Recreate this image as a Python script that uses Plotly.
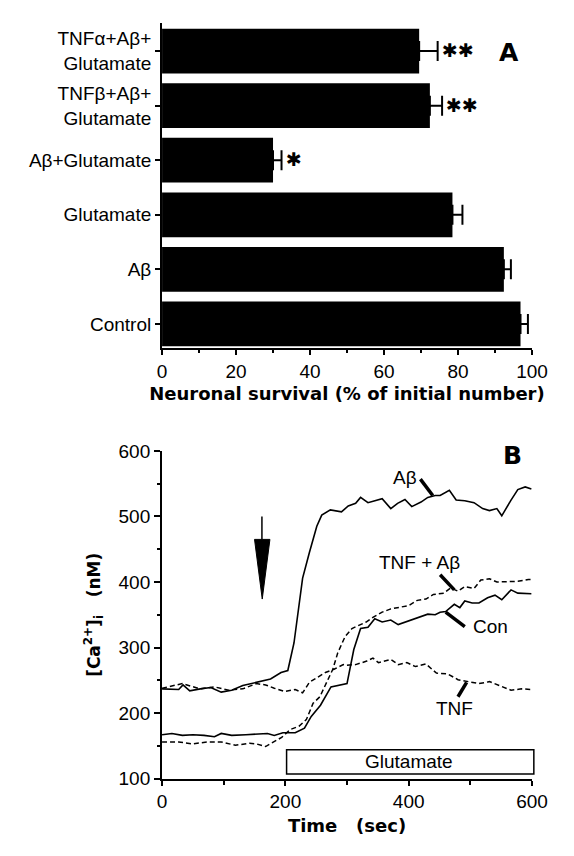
import plotly.graph_objects as go

# ---------------- Panel A data (bottom -> top) ----------------
categories = ["Control", "Aβ", "Glutamate", "Aβ+Glutamate",
              "TNFβ+Aβ+<br>Glutamate", "TNFα+Aβ+<br>Glutamate"]
survival = [96.9, 92.4, 78.5, 30.0, 72.4, 69.5]
survival_err = [2.0, 1.9, 2.7, 2.3, 3.3, 5.0]
stars = ["", "", "", "✱", "✱✱", "✱✱"]
a_ticks = [0, 20, 40, 60, 80, 100]

# ---------------- Panel B data ----------------
t_abeta = [0, 27, 34, 45, 62, 79, 96, 113, 131, 153, 176, 193, 204, 214, 228, 239, 251, 259,
           273, 291, 302, 314, 322, 334, 348, 357, 371, 382, 394, 405, 420, 431, 443, 451,
           466, 477, 491, 506, 520, 531, 543, 551, 566, 577, 589, 599]
ca_abeta = [237, 236, 243, 234, 237, 239, 232, 235, 242, 247, 252, 262, 265, 307, 406, 445, 485, 502,
            510, 507, 516, 520, 529, 521, 525, 527, 512, 520, 526, 515, 522, 529, 532, 532,
            540, 525, 524, 521, 512, 509, 512, 501, 525, 541, 545, 542]

t_tnf = [0, 33, 62, 85, 108, 131, 153, 168, 182, 199, 216, 228, 239, 256, 265, 279, 294, 299,
         314, 331, 342, 351, 360, 371, 383, 397, 411, 428, 445, 463, 480, 497, 514, 531, 549,
         566, 583, 599]
ca_tnf = [238, 245, 237, 240, 235, 237, 245, 243, 238, 233, 236, 231, 247, 257, 262, 267, 274, 273,
          274, 279, 284, 277, 279, 282, 274, 277, 271, 275, 261, 260, 251, 248, 245, 248, 241,
          235, 237, 236]

t_con = [0, 16, 33, 50, 68, 85, 96, 113, 136, 159, 171, 182, 196, 216, 231, 242, 257, 274, 285,
         300, 311, 322, 334, 345, 357, 371, 383, 400, 417, 431, 443, 451, 460, 474, 483, 491,
         503, 514, 528, 540, 551, 566, 577, 599]
ca_con = [167, 169, 166, 167, 166, 164, 169, 166, 167, 168, 169, 166, 170, 170, 177, 195, 212, 240, 242,
          245, 297, 329, 331, 344, 339, 342, 335, 341, 346, 351, 350, 354, 355, 366, 361, 371,
          368, 368, 376, 380, 373, 388, 383, 382]

t_tnfab = [0, 27, 50, 73, 96, 119, 142, 153, 168, 182, 194, 208, 222, 234, 245, 256, 265, 277,
           285, 297, 308, 320, 331, 342, 357, 371, 385, 400, 414, 428, 440, 457, 468, 480, 491,
           506, 517, 531, 543, 560, 577, 594, 599]
ca_tnfab = [156, 156, 153, 156, 156, 151, 154, 153, 149, 156, 163, 175, 180, 190, 215, 225, 242, 267,
            292, 317, 329, 334, 339, 346, 354, 359, 361, 364, 372, 374, 381, 383, 391, 386, 393,
            390, 403, 405, 400, 400, 401, 404, 404]

b_xticks = [0, 200, 400, 600]
b_yticks = [100, 200, 300, 400, 500, 600]

FONT = "Liberation Sans, Arial, sans-serif"
BOLD = "DejaVu Sans"
W, H = 574, 856
XD = [163 / W, 547 / W]
YA = [1 - 347 / H, 1 - 13 / H]
YB = [1 - 788 / H, 1 - 452 / H]

fig = go.Figure()

fig.add_trace(go.Bar(
    x=survival, y=categories, orientation="h",
    marker=dict(color="black", line=dict(width=0)), width=0.82,
    error_x=dict(type="data", array=survival_err, arrayminus=[0] * len(survival_err),
                 symmetric=False, color="black", thickness=2, width=10),
    xaxis="x", yaxis="y", showlegend=False,
))

for cat, v, e, s in zip(categories, survival, survival_err, stars):
    if s:
        fig.add_annotation(x=v + e, y=cat, xref="x", yref="y", text=s, showarrow=False,
                           xanchor="left", xshift=2, yshift=1,
                           font=dict(family="DejaVu Sans", size=19, color="black"))

line_style = dict(color="black", width=1.6)
fig.add_trace(go.Scatter(x=t_abeta, y=ca_abeta, mode="lines", line=line_style,
                         xaxis="x2", yaxis="y2", showlegend=False))
fig.add_trace(go.Scatter(x=t_con, y=ca_con, mode="lines", line=line_style,
                         xaxis="x2", yaxis="y2", showlegend=False))
fig.add_trace(go.Scatter(x=t_tnf, y=ca_tnf, mode="lines",
                         line=dict(color="black", width=1.5, dash="5px,3px"),
                         xaxis="x2", yaxis="y2", showlegend=False))
fig.add_trace(go.Scatter(x=t_tnfab, y=ca_tnfab, mode="lines",
                         line=dict(color="black", width=1.5, dash="5px,3px"),
                         xaxis="x2", yaxis="y2", showlegend=False))

axis_common = dict(showline=True, linecolor="black", linewidth=2, ticks="outside",
                   tickcolor="black", tickwidth=2, showgrid=False, zeroline=False,
                   tickfont=dict(family=FONT, size=19, color="black"))
title_font = dict(family=BOLD, size=18, color="black")

fig.update_layout(
    width=W, height=H, margin=dict(l=0, r=0, t=0, b=0),
    paper_bgcolor="white", plot_bgcolor="white", hovermode=False,
    xaxis=dict(domain=XD, anchor="y", range=[0, 100], tickvals=a_ticks, ticklen=5,
               minor=dict(dtick=10, ticklen=3, ticks="outside", tickcolor="black", tickwidth=2),
               title=dict(text="<b>Neuronal survival (% of initial number)</b>",
                          font=title_font, standoff=6),
               **axis_common),
    yaxis=dict(domain=YA, anchor="x", type="category", range=[-0.45, 5.52], ticklen=5,
               **axis_common),
    xaxis2=dict(domain=XD, anchor="y2", range=[0, 600], tickvals=b_xticks, ticklen=5,
                minor=dict(tickvals=[100, 300, 500], ticklen=4, ticks="outside",
                           tickcolor="black", tickwidth=2),
                title=dict(text="<b>Time&nbsp;&nbsp;&nbsp;(sec)</b>", font=title_font, standoff=8),
                **axis_common),
    yaxis2=dict(domain=YB, anchor="x2", range=[100, 600], tickvals=b_yticks, ticklen=6,
                minor=dict(dtick=50, ticklen=3, ticks="outside", tickcolor="black", tickwidth=2),
                title=dict(text="<b>[Ca<sup>2+</sup>]<sub>i</sub>&nbsp;&nbsp;&nbsp;(nM)</b>",
                           font=dict(family=BOLD, size=17, color="black"), standoff=14),
                **axis_common),
)

# panel letters
fig.add_annotation(x=536 / W, y=1 - 27 / H, xref="paper", yref="paper", showarrow=False,
                   text="<b>A</b>", font=dict(family=BOLD, size=25, color="black"))
fig.add_annotation(x=539 / W, y=1 - 457 / H, xref="paper", yref="paper", showarrow=False,
                   text="<b>B</b>", font=dict(family=BOLD, size=25, color="black"))

# panel B decorations: arrow, glutamate bar, callouts
fig.add_shape(type="line", xref="x2", yref="y2", x0=162, x1=162, y0=500, y1=465,
              line=dict(color="black", width=1.5))
fig.add_shape(type="path", xref="x2", yref="y2", path="M 150,465 L 175,465 L 162.5,374 Z",
              fillcolor="black", line=dict(color="black", width=1))


def px_x(t):
    return XD[0] + (XD[1] - XD[0]) * t / 600


def px_y(v):
    return YB[0] + (YB[1] - YB[0]) * (v - 100) / 500


fig.add_shape(type="rect", xref="paper", yref="paper", x0=px_x(202), x1=px_x(603),
              y0=px_y(107), y1=px_y(144), line=dict(color="black", width=1.5),
              fillcolor="white")
fig.add_annotation(x=400, y=126, xref="x2", yref="y2", text="Glutamate", showarrow=False,
                   font=dict(family=FONT, size=19, color="black"))

callouts = [
    ("Aβ", 394, 560, (419, 557), (439, 532)),
    ("TNF + Aβ", 417, 430, (451, 411), (474, 388)),
    ("Con", 532, 332, (460, 354), (491, 332)),
    ("TNF", 474, 207, (494, 247), (480, 225)),
]
for txt, tx, ty, p0, p1 in callouts:
    fig.add_annotation(x=tx, y=ty, xref="x2", yref="y2", text=txt, showarrow=False,
                       font=dict(family=FONT, size=19, color="black"))
    fig.add_shape(type="line", xref="x2", yref="y2", x0=p0[0], y0=p0[1], x1=p1[0], y1=p1[1],
                  line=dict(color="black", width=3.5))

fig.write_html("out.html", config={"displayModeBar": False, "staticPlot": True},
               post_script="document.body.style.margin='0';document.body.style.overflow='hidden';")
